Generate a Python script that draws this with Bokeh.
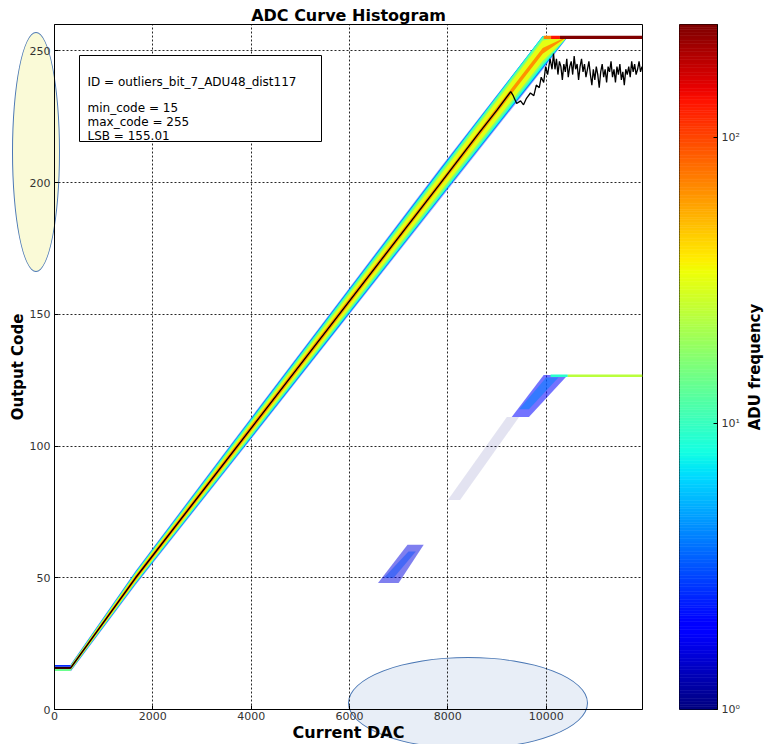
import numpy as np
from bokeh.plotting import figure
from bokeh.layouts import row
from bokeh.models import (Range1d, FixedTicker, LogColorMapper, ColumnDataSource, Label,
                          BoxAnnotation, CustomJSTickFormatter, Title, InlineStyleSheet)
from bokeh.transform import transform
from bokeh.embed import file_html
from bokeh.resources import INLINE

# ---------------- data ----------------
x_ticks = [0, 2000, 4000, 6000, 8000, 10000]
y_ticks = [0, 50, 100, 150, 200, 250]
cbar_ticks = [1, 10, 100]
CMAX = 248            # top of the colour scale (ADU frequency)
SAT_CODE = 255        # saturation code

# main band: centre code along the DAC axis
band_dac = [330, 1650, 3720, 5790, 7860, 9930, 10450]
band_code = [15.8, 50, 100, 150, 200, 250, 262.6]
# half widths (codes) of the iso-count contours at the knots above
level_counts = [2, 4, 8, 16, 32, 64, 128]
level_alpha = [0.35, 1, 1, 1, 1, 1, 1]
hw_2 = [1.4, 2.7, 4.0, 5.0, 6.0, 7.2, 7.2]
hw_4 = [1.2, 2.4, 3.6, 4.6, 5.5, 6.7, 6.7]
hw_8 = [1.0, 2.1, 3.2, 4.1, 5.0, 6.0, 6.0]
hw_16 = [0.9, 1.8, 2.7, 3.5, 4.3, 5.1, 5.1]
hw_32 = [0.7, 1.4, 2.0, 2.6, 3.2, 3.9, 3.9]
hw_64 = [0.55, 0.9, 1.1, 1.1, 1.0, 1.1, 1.1]
hw_128 = [0.45, 0.5, 0.35, 0.2, 0.0, 0.0, 0.0]

# flat start (codes 15-16 before the ramp)
flat_start, flat_end = 0, 330
flat_lo = [14.6, 15.4, 16.2]
flat_hi = [15.4, 16.2, 16.9]
flat_count = [14, 240, 2.5]

# saturated row at code 255
sat_start = [9950, 10100, 10280]
sat_end = [10100, 10280, 11960]
sat_count = [70, 130, 245]

# outlier row at code 127
l127_start = [10090, 10440]
l127_end = [10440, 11960]
l127_count = [9, 24]

# outlier clusters (corner DAC / code) with count and opacity
out_dac = [[6580, 7000, 7510, 7180], [6700, 6900, 7350, 7200], [8000, 8250, 9450, 9200],
           [9300, 9650, 10440, 9950], [9450, 9650, 10250, 10000]]
out_code = [[48, 48, 62.5, 62.5], [50, 50, 60, 60], [79.5, 79.5, 111, 111],
            [111, 111, 127, 127], [114, 114, 126, 126]]
out_count = [1.6, 3, 1, 2, 4]
out_alpha = [0.5, 0.45, 0.11, 0.55, 0.55]

# mean output code (black line)
mean_dac = [0, 330, 1650, 3720, 5790, 7860, 8600, 9000, 9280, 9330, 9400, 9480, 9540, 9600,
            9680, 9750, 9800, 9860, 9900, 9950, 9990, 10030, 10080, 10120]
mean_code = [15.8, 15.8, 50, 100, 150, 200, 218, 227.5, 234.5, 233, 230, 231, 229.5, 232,
             234, 233, 237, 236, 240, 238, 244, 241, 247, 243]
plateau_dac = list(range(10150, 11960, 30))
plateau_code = [249, 243, 247, 241, 246, 244, 239, 245, 242, 247, 240, 244,
                246, 241, 248, 243, 245, 239, 244, 247, 242, 245, 240, 243, 246,
                241, 237, 243, 239, 244, 241, 236, 242, 245, 240, 243, 238, 244,
                242, 246, 240, 243, 238, 244, 241, 245, 239, 242, 237, 243, 241,
                244, 240, 246, 242, 245, 241, 243, 246, 242, 244]

info_lines = ["ID = outliers_bit_7_ADU48_dist117", "min_code = 15", "max_code = 255", "LSB = 155.01"]

# ---------------- styling helpers ----------------
def jet_palette(n=256):
    t = np.linspace(0, 1, n)
    r = np.interp(t, [0, 0.35, 0.66, 0.89, 1], [0, 0, 1, 1, 0.5])
    g = np.interp(t, [0, 0.125, 0.375, 0.64, 0.91, 1], [0, 0, 1, 1, 0, 0])
    b = np.interp(t, [0, 0.11, 0.34, 0.65, 1], [0.5, 1, 1, 0, 0])
    return ["#%02x%02x%02x" % (int(round(255 * a)), int(round(255 * c)), int(round(255 * d)))
            for a, c, d in zip(r, g, b)]

JET = jet_palette()
mapper = LogColorMapper(palette=JET, low=1, high=CMAX)
FONT = "DejaVu Sans"
H = 744
TOP, BOTTOM = 24, 35

# two highlight ellipses behind the (transparent) canvas
ellipse_css = """
:host { position: relative; z-index: 0; overflow: hidden; }
:host::before { content: ""; position: absolute; left: 12px; top: 32px; width: 48px; height: 240px;
  box-sizing: border-box; border: 1px solid #4a77b4; border-radius: 50%; background: #fafad7;
  z-index: -1; pointer-events: none; }
:host::after { content: ""; position: absolute; left: 348px; top: 657px; width: 240px; height: 92px;
  box-sizing: border-box; border: 1px solid #4a77b4; border-radius: 50%; background: #e8eef7;
  z-index: -1; pointer-events: none; }
"""

p = figure(width=650, height=H, x_range=Range1d(0, 11960), y_range=Range1d(0, 260),
           output_backend="svg", toolbar_location=None,
           min_border_left=54, min_border_right=8, min_border_top=TOP, min_border_bottom=BOTTOM,
           stylesheets=[InlineStyleSheet(css=ellipse_css)])
p.outline_line_color = "black"
p.outline_line_width = 1
p.background_fill_alpha = 0
p.border_fill_alpha = 0

p.title.text = "ADC Curve Histogram"
p.title.align = "center"
p.title.text_font = FONT
p.title.text_font_size = "16px"
p.title.text_font_style = "bold"
p.title.text_color = "black"
p.title.standoff = 0

p.xaxis.ticker = FixedTicker(ticks=x_ticks)
p.yaxis.ticker = FixedTicker(ticks=y_ticks)
for ax in (p.xaxis[0], p.yaxis[0]):
    ax.major_tick_in = 4
    ax.major_tick_out = 0
    ax.minor_tick_in = 0
    ax.minor_tick_out = 0
    ax.major_label_text_font = FONT
    ax.major_label_text_font_size = "11px"
    ax.major_label_text_color = "#333333"
    ax.axis_line_color = "black"
    ax.major_tick_line_color = "black"
    ax.axis_label_text_font = FONT
    ax.axis_label_text_font_style = "bold"
    ax.axis_label_text_color = "black"
p.xaxis.major_label_standoff = 2
p.yaxis.major_label_standoff = 4
p.xaxis.axis_label = "Current DAC"
p.xaxis.axis_label_text_font_size = "16px"
p.xaxis.axis_label_standoff = 0
p.yaxis.axis_label = "Output Code"
p.yaxis.axis_label_text_font_size = "15px"
p.yaxis.axis_label_standoff = 0
p.grid.grid_line_color = "black"
p.grid.grid_line_alpha = 0.85
p.grid.grid_line_dash = "2 2"
p.grid.grid_line_width = 1

# ---------------- histogram ----------------
src_out = ColumnDataSource(dict(xs=out_dac, ys=out_code, count=out_count, alpha=out_alpha))
p.patches("xs", "ys", source=src_out, fill_color=transform("count", mapper),
          fill_alpha="alpha", line_color=None)

src_127 = ColumnDataSource(dict(l=l127_start, r=l127_end, b=[126.2] * len(l127_start),
                                t=[127.2] * len(l127_start), count=l127_count))
p.quad(left="l", right="r", bottom="b", top="t", source=src_127,
       fill_color=transform("count", mapper), line_color=None)

hw_levels = [hw_2, hw_4, hw_8, hw_16, hw_32, hw_64, hw_128]
top_clip = SAT_CODE + 0.6
bxs, bys = [], []
centre = np.array(band_code, dtype=float)
for hw in hw_levels:
    w = np.array(hw, dtype=float)
    up = np.minimum(centre + w, top_clip)
    lo = np.minimum(centre - w, top_clip)
    bxs.append(list(band_dac) + list(band_dac[::-1]))
    bys.append(list(up) + list(lo[::-1]))
src_band = ColumnDataSource(dict(xs=bxs, ys=bys, count=level_counts, alpha=level_alpha))
p.patches("xs", "ys", source=src_band, fill_color=transform("count", mapper),
          fill_alpha="alpha", line_color=None)

src_flat = ColumnDataSource(dict(b=flat_lo, t=flat_hi, count=flat_count))
p.quad(left=flat_start, right=flat_end, bottom="b", top="t", source=src_flat,
       fill_color=transform("count", mapper), line_color=None)

src_sat = ColumnDataSource(dict(l=sat_start, r=sat_end, b=[SAT_CODE - 0.5] * len(sat_start),
                                t=[SAT_CODE + 0.7] * len(sat_start), count=sat_count))
p.quad(left="l", right="r", bottom="b", top="t", source=src_sat,
       fill_color=transform("count", mapper), line_color=None)

p.line(mean_dac + plateau_dac, mean_code + plateau_code, line_color="black", line_width=1.3)

# ---------------- info box ----------------
box = BoxAnnotation(left=79, right=321, top=55, bottom=141,
                    left_units="canvas", right_units="canvas", top_units="canvas", bottom_units="canvas",
                    fill_color="white", fill_alpha=1, line_color="black", line_width=1, line_alpha=1)
p.add_layout(box)
for txt, yb in zip(info_lines, [81, 107.5, 121.5, 135]):
    p.add_layout(Label(x=87, y=yb, x_units="canvas", y_units="canvas", text=txt,
                       text_font=FONT, text_font_size="12px", text_color="black",
                       text_baseline="alphabetic", text_align="left"))

# ---------------- colour bar ----------------
cb = figure(width=93, height=H, x_range=Range1d(0, 1), y_range=Range1d(1, CMAX),
            y_axis_type="log", y_axis_location="right", x_axis_location=None,
            output_backend="svg", toolbar_location=None,
            min_border_left=29, min_border_right=26, min_border_top=TOP, min_border_bottom=BOTTOM - 1)
cb.grid.visible = False
cb.outline_line_color = "black"
edges = CMAX ** (np.arange(257) / 256.0)
mids = np.sqrt(edges[:-1] * edges[1:])
src_cb = ColumnDataSource(dict(b=edges[:-1], t=edges[1:], m=mids))
cb.quad(left=0, right=1, bottom="b", top="t", source=src_cb,
        fill_color=transform("m", mapper), line_color=transform("m", mapper), line_width=0.6)
ay = cb.yaxis[0]
ay.ticker = FixedTicker(ticks=cbar_ticks)
ay.formatter = CustomJSTickFormatter(code="""
const sup = {"0": "\\u2070", "1": "\\u00b9", "2": "\\u00b2", "3": "\\u00b3"};
const e = Math.round(Math.log10(tick));
return "10" + sup[String(e)];
""")
ay.major_tick_in = 4
ay.major_tick_out = 0
ay.minor_tick_in = 0
ay.minor_tick_out = 0
ay.major_label_standoff = 4
ay.major_label_text_font = FONT
ay.major_label_text_font_size = "11px"
ay.major_label_text_color = "#333333"
ay.axis_line_color = "black"

# colour-bar label (reads bottom to top)
lab = figure(width=21, height=H, x_range=Range1d(0, 1), y_range=Range1d(0, 1),
             x_axis_location=None, y_axis_location=None, output_backend="svg",
             toolbar_location=None, min_border_left=19, min_border_right=0,
             min_border_top=TOP, min_border_bottom=BOTTOM)
lab.grid.visible = False
lab.outline_line_color = None
lab.add_layout(Title(text="ADU frequency", align="center", text_font=FONT, text_font_size="15px",
                     text_font_style="bold", standoff=0, text_color="black"), "left")

layout = row(p, cb, lab)
open("out.html", "w").write(file_html(layout, INLINE))
